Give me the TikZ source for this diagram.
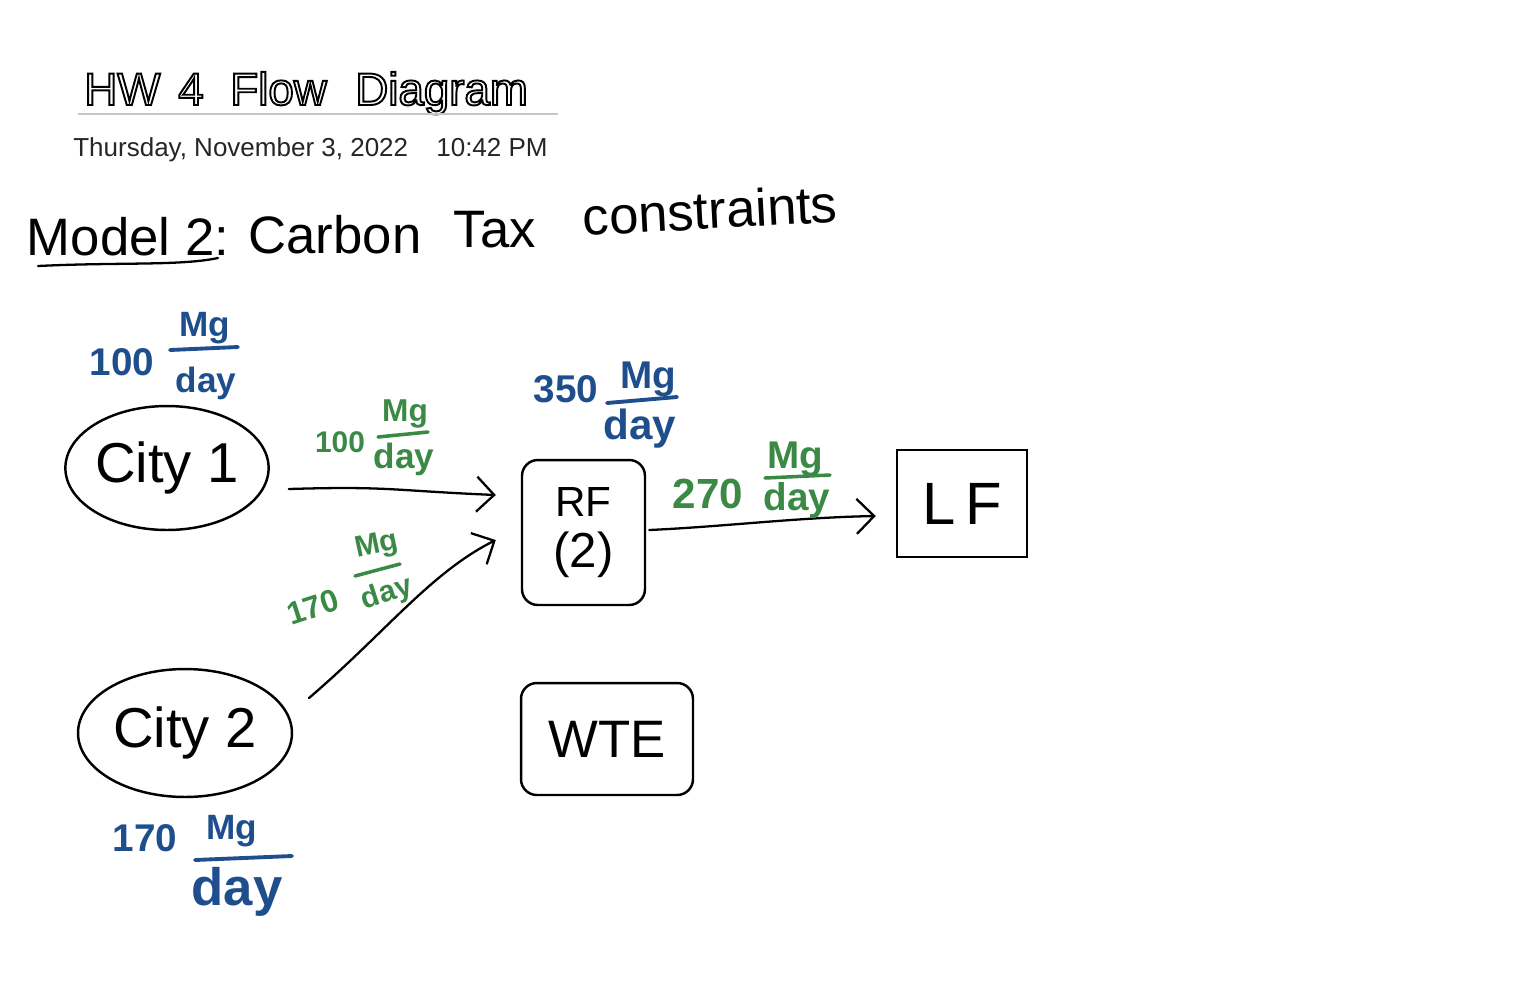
\documentclass[tikz,border=0pt]{standalone}
\usepackage{fontspec}
\setmainfont{Liberation Sans}
\usetikzlibrary{arrows.meta,calc,shapes.geometric}
\definecolor{inkblue}{HTML}{1F4E8C}
\definecolor{inkgreen}{HTML}{3A8A45}
\newcommand{\fsz}[1]{\fontsize{#1}{#1}\selectfont}
\newcommand{\outl}[1]{\special{pdf:code 1 Tr 1.1 w}#1\special{pdf:code 0 Tr}}
\tikzset{
  hand/.style={font=\fsz{30}, inner sep=0pt},
  titletxt/.style={inner sep=0pt, anchor=base west, font=\fsz{26}},
  bluelbl/.style={text=inkblue, font=\bfseries\fsz{22}, inner sep=0pt},
  greenlbl/.style={text=inkgreen, font=\bfseries\fsz{20}, inner sep=0pt},
  bluebar/.style={draw=inkblue, line width=2.2pt, line cap=round},
  greenbar/.style={draw=inkgreen, line width=2pt, line cap=round},
  boxnode/.style={draw, line width=1.4pt, rounded corners=9pt, inner sep=0pt, align=center},
  citynode/.style={draw, ellipse, line width=1.4pt, inner sep=0pt, font=\fsz{32}},
  flow/.style={line width=1.3pt, line cap=round, -{Straight Barb[length=3.5mm,width=7mm,line width=1.3pt]}},
}
\begin{document}
\begin{tikzpicture}[x=0.02cm, y=-0.02cm]
\useasboundingbox (0,0) rectangle (1516,992);
\fill[white] (0,0) rectangle (1516,992);

% title
\node[titletxt] (t1) at (84,105) {\outl{HW}};
\node[titletxt] (t2) at (178,105) {\outl{4}};
\node[titletxt] (t3) at (230,105) {\outl{Flow}};
\node[titletxt] (t4) at (355,105) {\outl{Diagram}};
\draw[gray!45, line width=0.8pt] (78,114) -- (558,114);
\node[inner sep=0pt, anchor=base west, text=black!85, font=\fsz{14.8}] (date) at (73,156) {Thursday, November 3, 2022};
\node[inner sep=0pt, anchor=base west, text=black!85, font=\fsz{14.8}] (time) at (436,156) {10:42 PM};

% heading
\node[hand] (model) at (128,237) {Model 2:};
\draw[line width=1.3pt, line cap=round] (38,266) .. controls (120,262) and (180,266) .. (218,258);
\node[hand] (carbon) at (335,235) {Carbon};
\node[hand] (tax) at (495,230) {Tax};
\node[hand, rotate=3] (constr) at (710,210) {constraints};

% process nodes
\node[citynode, minimum width=3.92cm, minimum height=2.48cm] (c1) at (167,468) {City 1};
\node[citynode, minimum width=4.28cm, minimum height=2.56cm] (c2) at (185,733) {City 2};
\node[boxnode, minimum width=2.46cm, minimum height=2.9cm] (rf) at (583.5,532.5)
  {{\fsz{24}RF}\\[8pt]{\fsz{28}(2)}};
\node[boxnode, rounded corners=0pt, minimum width=2.6cm, minimum height=2.14cm, font=\fsz{34}] (lf) at (962,503.5) {L\,F};
\node[boxnode, minimum width=3.44cm, minimum height=2.24cm, font=\fsz{30}] (wte) at (607,739) {WTE};

% connectors
\draw[flow] ($(c1.east)+(19,21)$) .. controls ($(c1.east)+(120,18)$) and ($(rf.west)+(-130,-42)$) .. ($(rf.west)+(-25,-37.5)$);
\draw[flow] ($(c2.center)+(124,-35)$) .. controls ($(c2.center)+(200,-100)$) and ($(rf.west)+(-90,40)$) .. ($(rf.west)+(-25,7.5)$);
\draw[flow] ($(rf.east)+(3,-2.5)$) .. controls ($(rf.east)+(80,-6)$) and ($(lf.west)+(-100,14)$) .. ($(lf.west)+(-20,12.5)$);

% blue inflow labels
\node[bluelbl] (b1n) at (122,362) {100};
\node[bluelbl, font=\bfseries\fsz{20}] (b1m) at (205,328) {Mg};
\draw[bluebar] (170,350) -- (238,347);
\node[bluelbl, font=\bfseries\fsz{20}] (b1d) at (206,383) {day};

\node[bluelbl] (b3n) at (566,389) {350};
\node[bluelbl] (b3m) at (648,379) {Mg};
\draw[bluebar] (607,403) -- (677,397);
\node[bluelbl, font=\bfseries\fsz{24}] (b3d) at (640,429) {day};

\node[bluelbl] (b2n) at (145,838) {170};
\node[bluelbl, font=\bfseries\fsz{20}] (b2m) at (232,831) {Mg};
\draw[bluebar] (195,860) -- (292,856);
\node[bluelbl, font=\bfseries\fsz{30}] (b2d) at (237,892) {day};

% green flow labels
\node[greenlbl, font=\bfseries\fsz{17}] (g1n) at (340,442) {100};
\node[greenlbl, font=\bfseries\fsz{18}] (g1m) at (405,414) {Mg};
\draw[greenbar] (378,437) -- (428,432);
\node[greenlbl] (g1d) at (404,459) {day};

\node[greenlbl, font=\bfseries\fsz{18}, rotate=18] (g2n) at (313,607) {170};
\node[greenlbl, font=\bfseries\fsz{17}, rotate=12] (g2m) at (377,546) {Mg};
\draw[greenbar] (355,576) -- (400,564);
\node[greenlbl, font=\bfseries\fsz{17}, rotate=18] (g2d) at (387,594) {day};

\node[greenlbl, font=\bfseries\fsz{24}] (g3n) at (708,494) {270};
\node[greenlbl, font=\bfseries\fsz{22}] (g3m) at (795,459) {Mg};
\draw[greenbar] (765,478) -- (830,475);
\node[greenlbl, font=\bfseries\fsz{22}] (g3d) at (797,500) {day};
\end{tikzpicture}
\end{document}
